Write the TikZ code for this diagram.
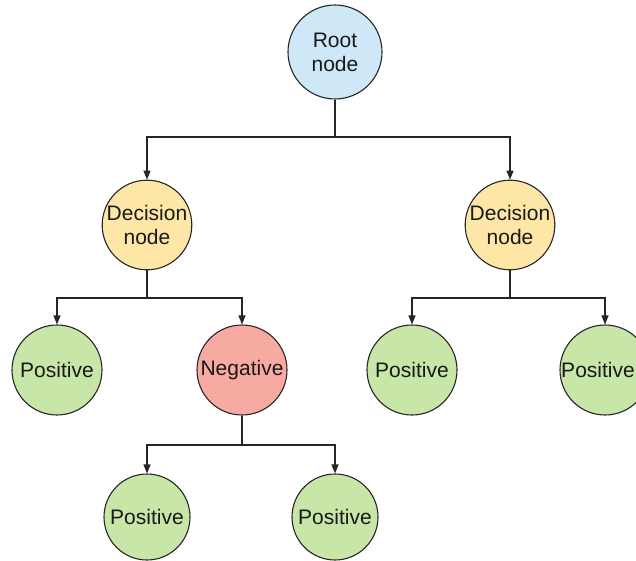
\documentclass[tikz,border=0pt]{standalone}
\usepackage{fontspec}
\setmainfont{Liberation Sans}
\usetikzlibrary{arrows.meta}

\definecolor{rootblue}{HTML}{CFE8F7}
\definecolor{decyellow}{HTML}{FDE6A6}
\definecolor{posgreen}{HTML}{C8E6A8}
\definecolor{negred}{HTML}{F7AAA2}

\tikzset{
    tnode/.style={circle, draw=black!85, line width=1.1pt, text=black!90,
        font=\fontsize{21}{24}\selectfont, align=center, inner sep=0pt},
    rootnode/.style={tnode, fill=rootblue, minimum size=94pt},
    decnode/.style={tnode, fill=decyellow, minimum size=86pt},
    posnode/.style={tnode, fill=posgreen, minimum size=90pt},
    negnode/.style={tnode, fill=negred, minimum size=90pt},
    branch/.style={draw=black!85, line width=1.3pt},
    split/.style={branch, -{Triangle[length=9pt,width=7pt]}}
}

\begin{document}
\begin{tikzpicture}[x=1pt,y=1pt]
    \useasboundingbox (0,0) rectangle (636,560);
    \node[rootnode] (Root) at (335,508) {Root\\node};
    \node[decnode] (DecL) at (147,335) {Decision\\node};
    \node[decnode] (DecR) at (510,335) {Decision\\node};
    \node[posnode] (PosA) at (57,190) {Positive};
    \node[negnode] (Neg) at (242,190) {Negative};
    \node[posnode] (PosB) at (412,190) {Positive};
    % last one runs off the right edge, text pulled in
    \node[posnode] (PosC) at (605,190) {\hspace*{-14pt}Positive};
    \node[posnode, minimum size=86pt] (PosD) at (147,43) {Positive};
    \node[posnode, minimum size=86pt] (PosE) at (335,43) {Positive};
    % branch points
    \coordinate (RootJ) at (335,423);
    \coordinate (DecLJ) at (147,262);
    \coordinate (DecRJ) at (510,262);
    \coordinate (NegJ) at (242,115);
    \draw[branch] (Root) -- (RootJ);
    \draw[split] (RootJ) -| (DecL);
    \draw[split] (RootJ) -| (DecR);
    \draw[branch] (DecL) -- (DecLJ);
    \draw[split] (DecLJ) -| (PosA);
    \draw[split] (DecLJ) -| (Neg);
    \draw[branch] (DecR) -- (DecRJ);
    \draw[split] (DecRJ) -| (PosB);
    \draw[split] (DecRJ) -| (PosC);
    \draw[branch] (Neg) -- (NegJ);
    \draw[split] (NegJ) -| (PosD);
    \draw[split] (NegJ) -| (PosE);
\end{tikzpicture}
\end{document}
